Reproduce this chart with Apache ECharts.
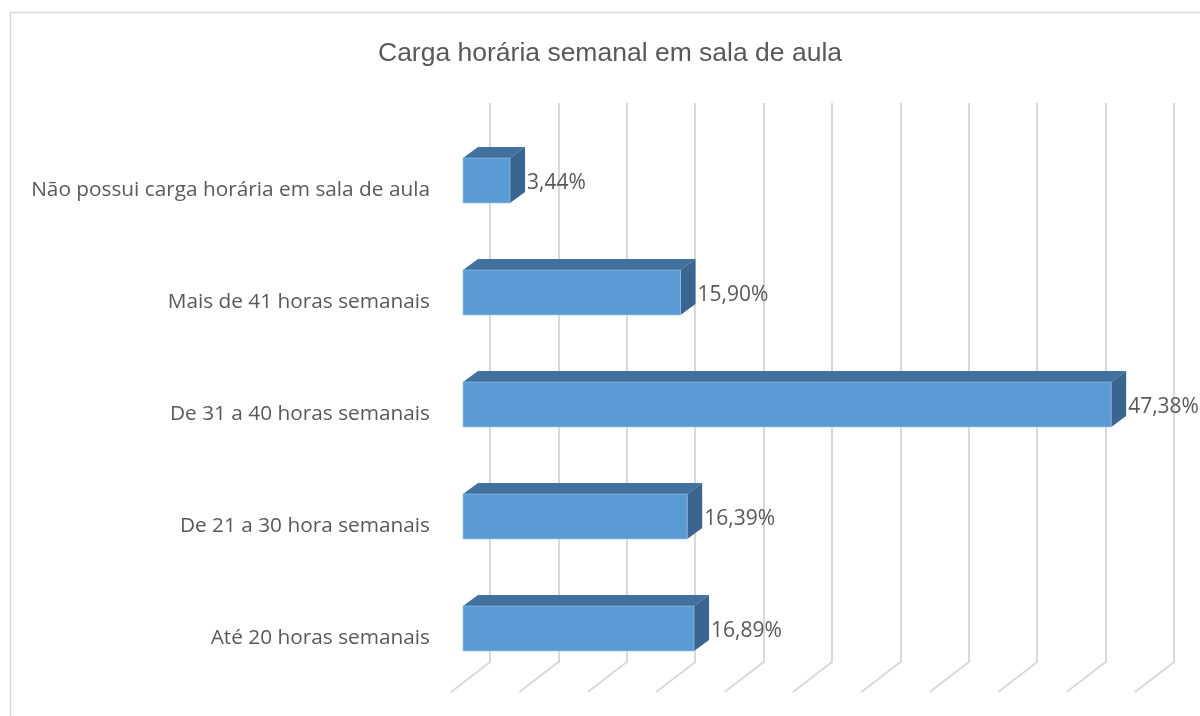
<!DOCTYPE html>
<html>
<head>
<meta charset="utf-8">
<script src="https://cdn.jsdelivr.net/npm/echarts@6/dist/echarts.min.js"></script>
<style>
  html, body { margin: 0; padding: 0; background: #fff; }
  #chart { width: 1200px; height: 716px; }
</style>
</head>
<body>
<div id="chart"></div>
<script>
// categories listed top to bottom, as in the picture
const categories = [
  "Não possui carga horária em sala de aula",
  "Mais de 41 horas semanais",
  "De 31 a 40 horas semanais",
  "De 21 a 30 hora semanais",
  "Até 20 horas semanais"
];
const percentValues = [3.44, 15.90, 47.38, 16.39, 16.89];
const gridTicks = [0, 5, 10, 15, 20, 25, 30, 35, 40, 45, 50];

const chart = echarts.init(document.getElementById("chart"), null, { renderer: "canvas" });

// fake 3D: the front face is shifted left/down from the back wall, depth goes up-right
const FRONT_DX = -27;
const DEPTH_X = 15, DEPTH_Y = -11;
const FACE_H = 45;

const fmt = (v) => v.toFixed(2).replace(".", ",") + "%";

const option = {
  animation: false,
  backgroundColor: "#fff",
  title: {
    text: "Carga horária semanal em sala de aula",
    left: 605,
    textAlign: "center",
    top: 35,
    textStyle: { fontFamily: "Liberation Sans", fontSize: 26.5, fontWeight: "normal", color: "#595959" }
  },
  graphic: [{
    type: "rect",
    shape: { x: 10.5, y: 12.5, width: 1200, height: 720 },
    style: { fill: "none", stroke: "#d9d9d9", lineWidth: 1.5 },
    silent: true
  }],
  grid: [
    // back wall (gridlines + bars)
    { left: 490, right: 26, top: 103, bottom: 53 },
    // same bands shifted down to line up the category labels with the front faces
    { left: 490, right: 26, top: 134, bottom: 22 }
  ],
  xAxis: [
    {
      type: "value",
      gridIndex: 0,
      min: 0,
      max: 50,
      interval: 5,
      axisLabel: { show: false },
      axisTick: { show: false },
      axisLine: { show: false },
      splitLine: { show: true, lineStyle: { color: "#d9d9d9", width: 2 } }
    },
    {
      type: "value",
      gridIndex: 1,
      min: 0,
      max: 50,
      show: false
    }
  ],
  yAxis: [
    {
      type: "category",
      gridIndex: 0,
      inverse: true,
      data: categories,
      show: false
    },
    {
      type: "category",
      gridIndex: 1,
      inverse: true,
      data: categories,
      axisTick: { show: false },
      axisLine: { show: false },
      splitLine: { show: false },
      axisLabel: {
        margin: 60,
        fontFamily: "Open Sans",
        fontSize: 20.8,
        color: "#595959"
      }
    }
  ],
  series: [
    {
      // floor perspective lines under each gridline
      type: "custom",
      silent: true,
      z: 1,
      data: gridTicks,
      renderItem: (params, api) => {
        const cs = params.coordSys;
        const x = api.coord([api.value(0), categories[0]])[0];
        const yb = cs.y + cs.height;
        return {
          type: "polyline",
          shape: { points: [[x, yb - 1], [x - 39, yb + 29]] },
          style: { stroke: "#d9d9d9", lineWidth: 2, fill: null }
        };
      },
      encode: { x: 0 }
    },
    {
      type: "custom",
      z: 3,
      data: percentValues.map((v, i) => [v, i]),
      encode: { x: 0, y: 1 },
      renderItem: (params, api) => {
        const v = api.value(0);
        const idx = api.value(1);
        const p0 = api.coord([0, idx]);
        const p1 = api.coord([v, idx]);
        const x1 = p0[0] + FRONT_DX;
        const x2 = p1[0] + FRONT_DX;
        const top = p0[1] - 1;
        const bot = top + FACE_H;
        return {
          type: "group",
          children: [
            {
              type: "polygon",
              shape: { points: [[x1, top], [x1 + DEPTH_X, top + DEPTH_Y], [x2 + DEPTH_X, top + DEPTH_Y], [x2, top]] },
              style: { fill: "#41719c" }
            },
            {
              type: "polygon",
              shape: { points: [[x2, top], [x2 + DEPTH_X, top + DEPTH_Y], [x2 + DEPTH_X, bot + DEPTH_Y], [x2, bot]] },
              style: { fill: "#3a6590" }
            },
            {
              type: "rect",
              shape: { x: x1, y: top, width: x2 - x1, height: FACE_H },
              style: { fill: "#5b9bd5", stroke: "#9dc3e6", lineWidth: 0.6 }
            },
            {
              type: "text",
              style: {
                x: x2 + DEPTH_X + 2,
                y: top + FACE_H / 2 + 3,
                text: fmt(v),
                fill: "#595959",
                font: "21px 'Open Sans'",
                verticalAlign: "middle",
                align: "left"
              }
            }
          ]
        };
      }
    }
  ]
};

chart.setOption(option);
</script>
</body>
</html>
